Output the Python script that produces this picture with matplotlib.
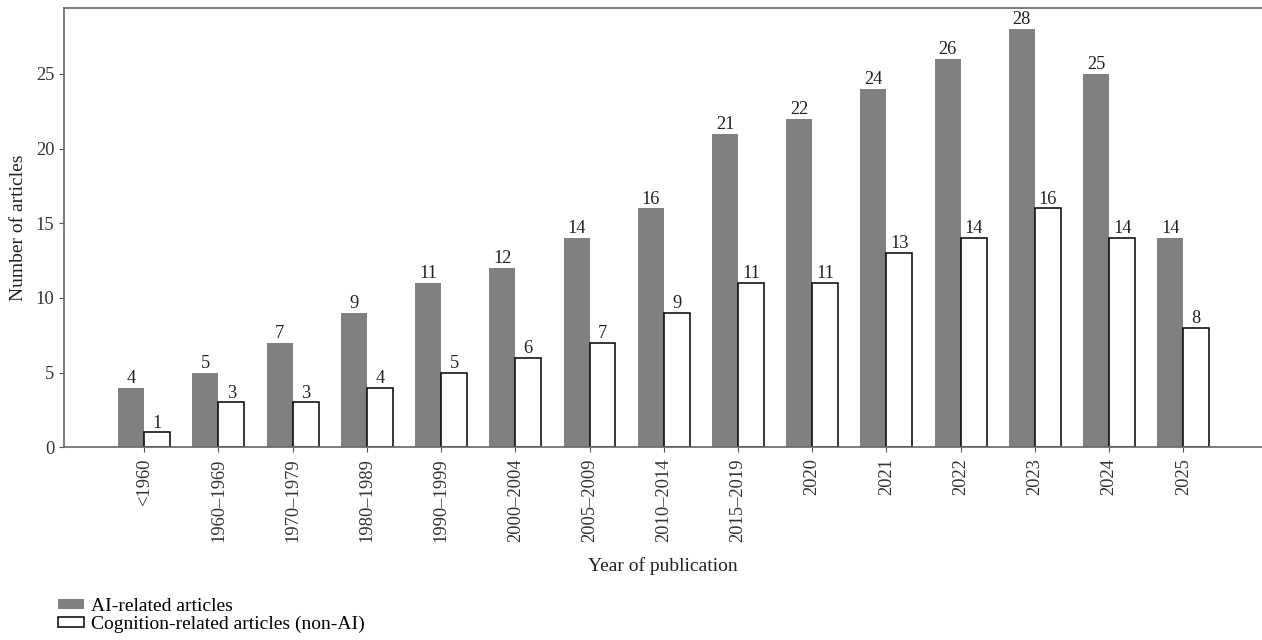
import matplotlib
matplotlib.use("Agg")
import matplotlib.pyplot as plt
import numpy as np

plt.rcParams['font.family'] = ['Liberation Serif', 'DejaVu Serif']

periods = ['<1960', '1960–1969', '1970–1979', '1980–1989', '1990–1999',
           '2000–2004', '2005–2009', '2010–2014', '2015–2019',
           '2020', '2021', '2022', '2023', '2024', '2025']
ai_counts = [4, 5, 7, 9, 11, 12, 14, 16, 21, 22, 24, 26, 28, 25, 14]
cog_counts = [1, 3, 3, 4, 5, 6, 7, 9, 11, 11, 13, 14, 16, 14, 8]

fig = plt.figure(figsize=(12.62, 6.4), dpi=100)
ax = fig.add_axes([0.0507, 0.3011, 0.9493, 0.686])

x = np.arange(len(periods))
w = 0.35
b1 = ax.bar(x - w / 2, ai_counts, w, color='#808080', edgecolor='none',
            label='AI-related articles')
b2 = ax.bar(x + w / 2, cog_counts, w, color='white', edgecolor='black',
            linewidth=1.1, label='Cognition-related articles (non-AI)')

for rects, vals in ((b1, ai_counts), (b2, cog_counts)):
    for r, v in zip(rects, vals):
        ax.text(r.get_x() + r.get_width() / 2, v + 0.05, str(v),
                ha='center', va='bottom', fontsize=13.2, color='#222222')

ax.set_xticks(x)
ax.set_xticklabels(periods, rotation=90, fontsize=13.3, color='#333333')
ax.set_xlim(-1.08, 15.06)
ax.set_ylim(0, 29.4)
ax.set_yticks([0, 5, 10, 15, 20, 25])
ax.tick_params(axis='y', labelsize=13.3, labelcolor='#333333', length=3.5,
               color='#555555')
ax.tick_params(axis='x', length=3.5, pad=4.5, color='#555555')

for s in ('left', 'top', 'bottom'):
    ax.spines[s].set_color('#666666')
    ax.spines[s].set_linewidth(1.2)
ax.spines['right'].set_visible(False)

ax.set_xlabel('Year of publication', fontsize=14, color='#222222', labelpad=11)
ax.set_ylabel('Number of articles', fontsize=14, color='#222222', labelpad=6)

fig.legend(handles=[b1, b2], loc='upper left', bbox_to_anchor=(0.046, 0.066),
           frameon=False, fontsize=14, handlelength=1.35, handleheight=0.4,
           handletextpad=0.35, labelspacing=0.05, borderaxespad=0,
           borderpad=0)

fig.savefig('out.png', dpi=100)
